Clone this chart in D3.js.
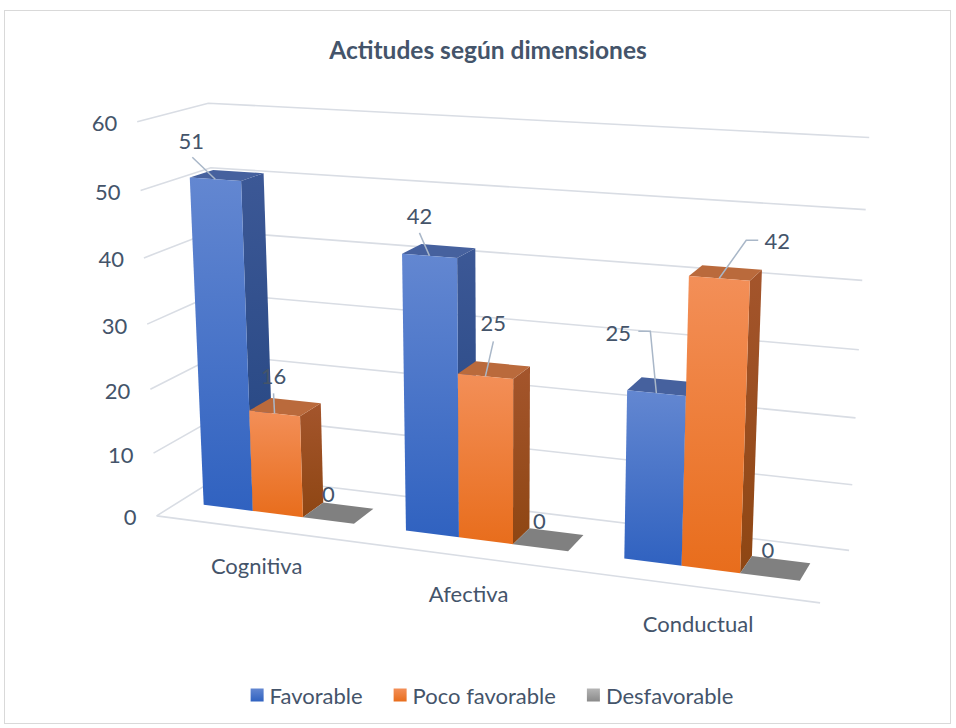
<!DOCTYPE html>
<html>
<head>
<meta charset="utf-8">
<script src="https://cdn.jsdelivr.net/npm/d3@7"></script>
<style>
  body { margin: 0; background: #fff; }
  text { font-family: Lato, "Noto Sans", sans-serif; fill: #44546a; }
</style>
</head>
<body>
<svg id="chart" width="956" height="728"></svg>
<script>
// data
const categories = ["Cognitiva", "Afectiva", "Conductual"];
const series = ["Favorable", "Poco favorable", "Desfavorable"];
const favorable = [51, 42, 25];
const pocoFavorable = [16, 25, 42];
const desfavorable = [0, 0, 0];
const yTicks = [0, 10, 20, 30, 40, 50, 60];
const title = "Actitudes según dimensiones";

const values = [favorable, pocoFavorable, desfavorable];

// look of each series: front gradient, side, top
const palette = {
    "Favorable": { front: ["#6387d1", "#3062c0"], side: ["#3c5896", "#244580"], top: "#46619e" },
    "Poco favorable": { front: ["#f38f58", "#e86d1c"], side: ["#a4552c", "#8e4613"], top: "#ba6a3c" },
    "Desfavorable": { front: ["#b5b5b5", "#8a8a8a"], side: ["#7a7a7a", "#6a6a6a"], top: "#808080" }
};

// where the box of the 3d plot lands on screen: [x, y(0..1), z(0 front, 1 back), px, py]
const calib = [
    [0, 1, 0, 137, 122],
    [0, 50 / 60, 0, 141, 190],
    [0, 10 / 60, 0, 153, 453],
    [0, 0, 0, 157, 516],
    [0, 1, 1, 208, 103],
    [0, 50 / 60, 1, 211, 168],
    [1, 1, 1, 869, 138],
    [1, 50 / 60, 1, 866, 209],
    [1, 40 / 60, 1, 862, 280],
    [1, 30 / 60, 1, 859, 350],
    [1, 20 / 60, 1, 856, 418],
    [1, 10 / 60, 1, 852, 485],
    [1, 0, 1, 849, 550],
    [1, 0, 0, 820, 603]
];
const zBar = [0.33, 0.67];
const fontSize = "22px";

// data label placement, relative to the middle of the bar's front top edge
const labelOffsets = [
    [[-24, -39], [-1, -38], [0, -27]],
    [[-10, -40], [8, -54], [-1, -27]],
    [[-38, -61], [58, -38], [-2, -27]]
];
// leader line points relative to label centre (then to the bar)
const leaders = [
    [[[1, 17]], [[0, 18]], null],
    [[[0, 17]], [[0, 19]], null],
    [[[20, -1], [32, -1]], [[-19, 0], [-31, 0]], null]
];

// fit a perspective camera (3x4 matrix) to the frame points
function fitProjection(pts) {
    const A = [], b = [];
    pts.forEach(([X, Y, Z, u0, v0]) => {
        const u = u0 / 1000, v = v0 / 1000;
        A.push([X, Y, Z, 1, 0, 0, 0, 0, -u * X, -u * Y, -u * Z]); b.push(u);
        A.push([0, 0, 0, 0, X, Y, Z, 1, -v * X, -v * Y, -v * Z]); b.push(v);
    });
    const n = 11;
    const M = d3.range(n).map(() => d3.range(n + 1).map(() => 0));
    A.forEach((row, r) => {
        for (let i = 0; i < n; i++) {
            for (let j = 0; j < n; j++) M[i][j] += row[i] * row[j];
            M[i][n] += row[i] * b[r];
        }
    });
    for (let c = 0; c < n; c++) {
        let p = c;
        for (let r = c + 1; r < n; r++) if (Math.abs(M[r][c]) > Math.abs(M[p][c])) p = r;
        [M[c], M[p]] = [M[p], M[c]];
        for (let r = 0; r < n; r++) {
            if (r === c) continue;
            const f = M[r][c] / M[c][c];
            for (let k = c; k <= n; k++) M[r][k] -= f * M[c][k];
        }
    }
    const h = M.map((row, i) => row[n] / row[i]);
    return (X, Y, Z) => {
        const w = h[8] * X + h[9] * Y + h[10] * Z + 1;
        return [1000 * (h[0] * X + h[1] * Y + h[2] * Z + h[3]) / w,
                1000 * (h[4] * X + h[5] * Y + h[6] * Z + h[7]) / w];
    };
}
const P = fitProjection(calib);

const svg = d3.select("#chart");
const defs = svg.append("defs");

svg.append("rect")
    .attr("x", 4.5).attr("y", 10.5)
    .attr("width", 946).attr("height", 713)
    .attr("fill", "#fff")
    .attr("stroke", "#d9d9d9");

svg.append("text")
    .attr("x", 488).attr("y", 49)
    .attr("text-anchor", "middle")
    .attr("dominant-baseline", "central")
    .style("font-size", "24.5px")
    .style("font-weight", "bold")
    .text(title);

// scales (gap width 100%)
const x0 = d3.scaleBand().domain(categories).range([0, 1]);
const x1 = d3.scaleBand().domain(series).range([0, x0.bandwidth()]).paddingOuter(0.5);
const y = d3.scaleLinear().domain([0, 60]).range([0, 1]);

const line = d3.line();
const grid = svg.append("g")
    .attr("fill", "none")
    .attr("stroke", "#d9dde4")
    .attr("stroke-width", 1.6);

// back wall and side wall gridlines
yTicks.forEach(t => {
    grid.append("path").attr("d", line([P(0, y(t), 0), P(0, y(t), 1), P(1, y(t), 1)]));
});
// floor front edge (category axis)
grid.append("path").attr("d", line([P(0, 0, 0), P(1, 0, 0)]));

// y tick labels
yTicks.forEach(t => {
    const p = P(0, y(t), 0);
    svg.append("text")
        .attr("x", p[0] - 20).attr("y", p[1] + 1)
        .attr("text-anchor", "end")
        .attr("dominant-baseline", "central")
        .style("font-size", fontSize)
        .text(t);
});

// category labels
categories.forEach(c => {
    const p = P(x0(c) + x0.bandwidth() / 2, 0, 0);
    svg.append("text")
        .attr("x", p[0]).attr("y", p[1] + 37)
        .attr("text-anchor", "middle")
        .attr("dominant-baseline", "central")
        .style("font-size", fontSize)
        .text(c);
});

// gradients
series.forEach((s, j) => {
    ["front", "side"].forEach(face => {
        const g = defs.append("linearGradient")
            .attr("id", `g-${face}-${j}`)
            .attr("x1", 0).attr("y1", 0).attr("x2", 0).attr("y2", 1);
        g.append("stop").attr("offset", 0).attr("stop-color", palette[s][face][0]);
        g.append("stop").attr("offset", 1).attr("stop-color", palette[s][face][1]);
    });
});

const bars = categories.flatMap((c, i) => series.map((s, j) => ({ c, s, i, j, v: values[j][i] })));
const barsG = svg.append("g");
const poly = pts => "M" + pts.map(p => p.join(",")).join("L") + "Z";

bars.forEach(d => {
    const xa = x0(d.c) + x1(d.s), xb = xa + x1.bandwidth();
    const yt = y(d.v);
    const [za, zb] = zBar;
    const g = barsG.append("g");
    if (d.v > 0) {
        g.append("path")
            .attr("d", poly([P(xb, 0, za), P(xb, 0, zb), P(xb, yt, zb), P(xb, yt, za)]))
            .attr("fill", `url(#g-side-${d.j})`);
        g.append("path")
            .attr("d", poly([P(xa, yt, za), P(xb, yt, za), P(xb, yt, zb), P(xa, yt, zb)]))
            .attr("fill", palette[d.s].top);
        g.append("path")
            .attr("d", poly([P(xa, 0, za), P(xb, 0, za), P(xb, yt, za), P(xa, yt, za)]))
            .attr("fill", `url(#g-front-${d.j})`);
    } else {
        g.append("path")
            .attr("d", poly([P(xa, 0, za), P(xb, 0, za), P(xb, 0, zb), P(xa, 0, zb)]))
            .attr("fill", palette[d.s].top);
    }
});

// data labels with leader lines
const labelsG = svg.append("g");
bars.forEach(d => {
    const xa = x0(d.c) + x1(d.s), xb = xa + x1.bandwidth();
    const a = P((xa + xb) / 2, y(d.v), zBar[0]);
    const off = labelOffsets[d.i][d.j];
    const lx = a[0] + off[0], ly = a[1] + off[1];
    const lead = leaders[d.i][d.j];
    if (lead) {
        const pts = lead.map(q => [lx + q[0], ly + q[1]]).concat([a]);
        labelsG.append("path")
            .attr("d", line(pts))
            .attr("fill", "none")
            .attr("stroke", "#a9b7c8")
            .attr("stroke-width", 1.5);
    }
    labelsG.append("text")
        .attr("x", lx).attr("y", ly)
        .attr("text-anchor", "middle")
        .attr("dominant-baseline", "central")
        .style("font-size", fontSize)
        .text(d.v);
});

// legend
const legend = svg.append("g");
let lx = 0;
series.forEach((s, j) => {
    const it = legend.append("g").attr("transform", `translate(${lx},0)`);
    it.append("rect")
        .attr("x", 0).attr("y", -6.5)
        .attr("width", 13).attr("height", 13)
        .attr("fill", `url(#g-front-${j})`);
    const t = it.append("text")
        .attr("x", 19).attr("y", 0)
        .attr("dominant-baseline", "central")
        .style("font-size", fontSize)
        .text(s);
    lx += 19 + t.node().getComputedTextLength() + 31;
});
lx -= 31;
legend.attr("transform", `translate(${492 - lx / 2},695)`);
</script>
</body>
</html>
